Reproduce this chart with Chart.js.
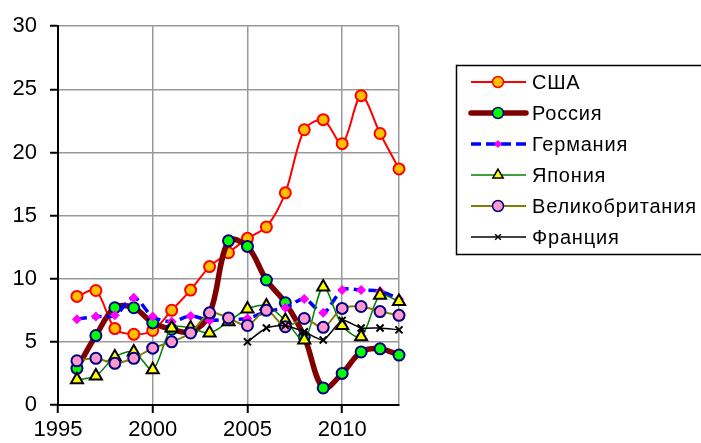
<!DOCTYPE html>
<html>
<head>
<meta charset="utf-8">
<script src="https://cdn.jsdelivr.net/npm/chart.js@4"></script>
<style>
  html, body { margin: 0; padding: 0; background: #fff; overflow: hidden; }
  #box { width: 701px; height: 443px; }
</style>
</head>
<body>
<div id="box"><canvas id="grafico"></canvas></div>
<script>
// ================= DADOS =================
const anos = [1996, 1997, 1998, 1999, 2000, 2001, 2002, 2003, 2004, 2005, 2006, 2007, 2008, 2009, 2010, 2011, 2012, 2013];

const usa      = [8.6, 9.07, 6.05, 5.6, 5.9, 7.5, 9.1, 10.96, 12.06, 13.2, 14.1, 16.8, 21.8, 22.6, 20.7, 24.5, 21.5, 18.7];
const russia   = [2.9, 5.5, 7.7, 7.7, 6.5, 6.0, 5.8, 7.2, 13.0, 12.56, 9.9, 8.1, 5.4, 1.35, 2.5, 4.2, 4.45, 3.95];
const germany  = [6.8, 7.0, 7.1, 8.5, 7.0, 6.6, 7.05, 6.7, 6.8, 6.85, 7.4, 7.7, 8.4, 7.3, 9.1, 9.1, 9.0, 8.4];
const japan    = [2.0, 2.3, 3.8, 4.2, 2.8, 6.1, 6.1, 5.7, 6.6, 7.6, 7.85, 6.7, 5.15, 9.35, 6.3, 5.4, 8.7, 8.2];
const uk       = [3.5, 3.7, 3.3, 3.7, 4.5, 5.0, 5.7, 7.3, 6.9, 6.3, 7.5, 6.2, 6.85, 6.15, 7.65, 7.8, 7.4, 7.1];
const france   = [null, null, null, null, null, null, null, null, null, 5.0, 6.1, 6.3, 5.8, 5.15, 6.7, 6.1, 6.1, 5.95];

const rotulos = ["США", "Россия", "Германия", "Япония", "Великобритания", "Франция"];

const yTicks = [0, 5, 10, 15, 20, 25, 30];
const xTicks = [1995, 2000, 2005, 2010];

const FONTE = 'Arial, "Liberation Sans", sans-serif';

const pontos = arr => anos.map((a, i) => ({ x: a, y: arr[i] }));

// ================= LEGENDA (desenhada à mão) =================
const legendaPlugin = {
  id: "legendaExcel",
  afterDraw(chart) {
    const c = chart.ctx;
    c.save();
    c.strokeStyle = "#000";
    c.lineWidth = 1.5;
    // caixa aberta: a borda direita fica fora da imagem
    c.beginPath();
    c.moveTo(456.5, 65.5);
    c.lineTo(chart.width + 20, 65.5);
    c.stroke();
    c.beginPath();
    c.moveTo(456.5, 254.5);
    c.lineTo(chart.width + 20, 254.5);
    c.stroke();
    c.beginPath();
    c.moveTo(456.5, 64.75);
    c.lineTo(456.5, 255.25);
    c.stroke();

    chart.data.datasets.forEach((ds, i) => {
      const y = 82 + i * 31;
      c.save();
      c.strokeStyle = ds.borderColor;
      c.lineWidth = ds.borderWidth;
      c.setLineDash(ds.borderDash || []);
      c.lineCap = ds.borderWidth > 4 ? "round" : "butt";
      c.beginPath();
      c.moveTo(471, y);
      c.lineTo(526, y);
      c.stroke();
      c.restore();

      c.save();
      c.fillStyle = ds.pointBackgroundColor;
      c.strokeStyle = ds.pointBorderColor;
      c.setLineDash([]);
      Chart.helpers.drawPoint(c, {
        pointStyle: ds.pointStyle,
        radius: ds.legendRadius || ds.pointRadius,
        borderWidth: ds.pointBorderWidth,
        rotation: 0
      }, 498, y);
      c.restore();

      c.save();
      c.fillStyle = "#000";
      c.font = "20px " + FONTE;
      c.letterSpacing = "0.8px";
      c.textBaseline = "middle";
      c.fillText(rotulos[i], 532, y + 1);
      c.restore();
    });
    c.restore();
  }
};

// ================= GRÁFICO =================
const ctx = document.getElementById("grafico").getContext("2d");

const grafico = new Chart(ctx, {
  type: "line",
  data: {
    datasets: [
      {
        label: rotulos[0], data: pontos(usa), order: 5,
        borderColor: "#ff0000", borderWidth: 2, tension: 0.3,
        pointStyle: "circle", pointRadius: 5.5, pointBorderWidth: 2,
        pointBackgroundColor: "#ffc000", pointBorderColor: "#ff0000"
      },
      {
        label: rotulos[1], data: pontos(russia), order: 4,
        borderColor: "#800000", borderWidth: 5.5, tension: 0.35,
        pointStyle: "circle", pointRadius: 5.5, pointBorderWidth: 2,
        pointBackgroundColor: "#00ff00", pointBorderColor: "#000080"
      },
      {
        label: rotulos[2], data: pontos(germany), order: 3,
        borderColor: "#0000ff", borderWidth: 3.5, borderDash: [10, 5], tension: 0.3,
        pointStyle: "rectRot", pointRadius: 5, pointBorderWidth: 0, legendRadius: 4,
        pointBackgroundColor: "#ff00ff", pointBorderColor: "#ff00ff"
      },
      {
        label: rotulos[3], data: pontos(japan), order: 2,
        borderColor: "#008000", borderWidth: 1.5, tension: 0.3,
        pointStyle: "triangle", pointRadius: 7, pointBorderWidth: 2, legendRadius: 6,
        pointBackgroundColor: "#ffff00", pointBorderColor: "#000000"
      },
      {
        label: rotulos[4], data: pontos(uk), order: 1,
        borderColor: "#808000", borderWidth: 2, tension: 0.3,
        pointStyle: "circle", pointRadius: 5.5, pointBorderWidth: 2,
        pointBackgroundColor: "#ff99cc", pointBorderColor: "#000080"
      },
      {
        label: rotulos[5], data: pontos(france), order: 0,
        borderColor: "#000000", borderWidth: 1.5, tension: 0.2,
        pointStyle: "crossRot", pointRadius: 5, pointBorderWidth: 2, legendRadius: 4,
        pointBackgroundColor: "#000000", pointBorderColor: "#000000"
      }
    ].map(d => Object.assign({ clip: false, fill: false, spanGaps: false }, d))
  },
  options: {
    responsive: true,
    maintainAspectRatio: false,
    animation: false,
    layout: { padding: { top: 23, right: 302, left: 0, bottom: 0 } },
    plugins: {
      legend: { display: false },
      tooltip: { enabled: false }
    },
    scales: {
      x: {
        type: "linear",
        min: 1995,
        max: 2013,
        afterBuildTicks: s => { s.ticks = xTicks.concat([2013]).map(v => ({ value: v })); },
        afterFit: s => { s.height = 38; },
        border: { color: "#000", width: 2 },
        grid: {
          color: c => (c.tick && (c.tick.value === 1995)) ? "rgba(0,0,0,0)" : "#999",
          lineWidth: 1.5,
          tickLength: 8,
          tickColor: c => (c.tick && c.tick.value === 2013) ? "rgba(0,0,0,0)" : "#000",
          tickWidth: 2
        },
        ticks: {
          color: "#000",
          padding: 4,
          maxRotation: 0,
          font: { family: FONTE, size: 22 },
          callback: v => (v === 2013 ? "" : String(v))
        }
      },
      y: {
        min: 0,
        max: 30,
        afterBuildTicks: s => { s.ticks = yTicks.map(v => ({ value: v })); },
        afterFit: s => { s.width = 58; },
        border: { color: "#000", width: 2 },
        grid: {
          color: c => (c.tick && c.tick.value === 0) ? "rgba(0,0,0,0)" : "#999",
          lineWidth: 1.5,
          tickLength: 8,
          tickColor: "#000",
          tickWidth: 2
        },
        ticks: {
          color: "#000",
          padding: 13,
          font: { family: FONTE, size: 22 }
        }
      }
    }
  },
  plugins: [legendaPlugin]
});
</script>
</body>
</html>
